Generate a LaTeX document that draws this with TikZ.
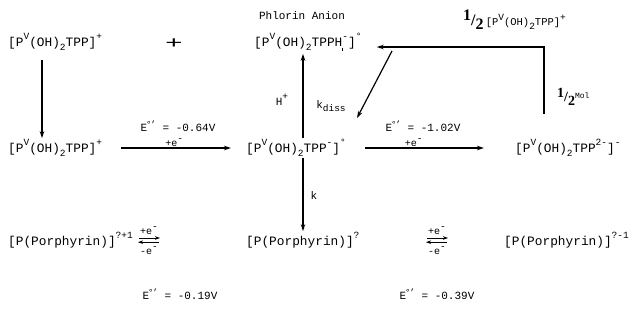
\documentclass[tikz,border=0pt]{standalone}
\usepackage{fontspec}
\setmainfont{Liberation Mono}
\newfontfamily\serifhalf{Liberation Serif}
\usetikzlibrary{arrows.meta,calc}
\newcommand\supx[1]{\raisebox{0.5em}{\fontsize{9.5}{9}\selectfont #1}}
\newcommand\subx[1]{\raisebox{-0.35em}{\fontsize{9.5}{9}\selectfont #1}}
\newcommand\halfx[1]{{\serifhalf\bfseries\fontsize{#1}{#1}\selectfont\raisebox{0.3em}{1}/\raisebox{-0.25em}{2}}}
\newcommand\epot{E\kern-1pt\raisebox{0.4em}{\fontsize{9}{9}\selectfont °\kern-1pt'}}
\begin{document}
\begin{tikzpicture}[x=1pt,y=-1pt,
  every node/.style={inner sep=1pt, font=\fontsize{12.8}{14}\selectfont},
  lbl/.style={font=\fontsize{11}{12}\selectfont},
  small/.style={font=\fontsize{10}{10}\selectfont},
  arr/.style={-{Stealth[length=7pt,width=4.5pt]}, line width=1.2pt},
  eqarr/.style={-{Stealth[length=5pt,width=3.5pt]}, line width=1pt}]
\useasboundingbox (0,0) rectangle (633,335);

% top row
\node[anchor=west] (A) at (7,42) {[P\supx{V}(OH)\subx{2}TPP]\supx{+}};
\node (plus) at (174,44) {\scalebox{2.1}[1.2]{\fontsize{14}{14}\selectfont +}};
\node[lbl] (phl) at (302,16) {Phlorin Anion};
\node[anchor=west] (B) at (253,42) {[P\supx{V}(OH)\subx{2}TPPH\rlap{\subx{\rule{0.6pt}{2.5pt}}}\supx{-}]\supx{°}};
\node[anchor=west] (half) at (462,20) {\halfx{16}\,{\fontsize{10.5}{12}\selectfont[P\supx{V}(OH)\subx{2}TPP]\supx{+}}};
\node[anchor=west] (mol) at (556,97) {\halfx{14}\raisebox{0.25em}{\fontsize{8}{9}\selectfont Mol}};

% middle row
\node[anchor=west] (C) at (7,148) {[P\supx{V}(OH)\subx{2}TPP]\supx{+}};
\node[anchor=west] (D) at (245,148) {[P\supx{V}(OH)\subx{2}TPP\supx{-}]\supx{°}};
\node[anchor=west] (E) at (514,148) {[P\supx{V}(OH)\subx{2}TPP\supx{2-}]\supx{-}};

% bottom row
\node[anchor=west] (F) at (7,240) {[P(Porphyrin)]\supx{?+1}};
\node[anchor=west] (G) at (245,240) {[P(Porphyrin)]\supx{?}};
\node[anchor=west] (H) at (503,240) {[P(Porphyrin)]\supx{?-1}};

% potentials
\node[lbl] (e1) at (178,126) {\epot{} = -0.64V};
\node[lbl] (e2) at (423,126) {\epot{} = -1.02V};
\node[lbl] (e3) at (180,294) {\epot{} = -0.19V};
\node[lbl] (e4) at (437,294) {\epot{} = -0.39V};

% rate labels
\node[lbl] (hplus) at (282,100) {H\supx{+}};
\node[lbl] (kdiss) at (331,106) {k\subx{diss}};
\node[lbl] (k) at (314,196) {k};

\coordinate (lx) at (42,0);
\coordinate (cx) at (303,0);
\coordinate (rc) at (544,47);
\coordinate (d1) at (392,51);
\coordinate (d2) at (357,118);

\draw[arr] (A.south -| lx) ++(0,8) -- (C.north -| lx);
\draw[arr] (D.north -| cx) -- ($(B.south -| cx)+(0,2)$);
\draw[arr] (D.south -| cx) -- (G.north -| cx);
\draw[arr, shorten <=18pt, shorten >=14pt] (C.east) -- (D.west)
  node[midway, above=0pt, small] {+e\supx{-}};
\draw[arr, shorten <=18pt, shorten >=30pt] (D.east) -- (E.west)
  node[pos=0.4, above=0pt, small] {+e\supx{-}};
\draw[arr, shorten >=14pt] ($(E.north -| rc)+(0,-24)$) -- (rc) -- (B.east |- rc);
\draw[arr] (d1) -- (d2);

% equilibria
\coordinate (q1) at (149,240);
\coordinate (q2) at (437,240);
\foreach \q in {q1,q2}{
  \draw[eqarr] ($(\q)+(-10,-2)$) -- ($(\q)+(11,-2)$);
  \draw[eqarr] ($(\q)+(10,2.2)$) -- ($(\q)+(-11,2.2)$);
}
\node[small] (p1) at ($(q1)+(0,-9)$) {+e\supx{-}};
\node[small] (m1) at ($(q1)+(0,11)$) {-e\supx{-}};
\node[small] (p2) at ($(q2)+(0,-9)$) {+e\supx{-}};
\node[small] (m2) at ($(q2)+(0,11)$) {-e\supx{-}};
\end{tikzpicture}
\end{document}
